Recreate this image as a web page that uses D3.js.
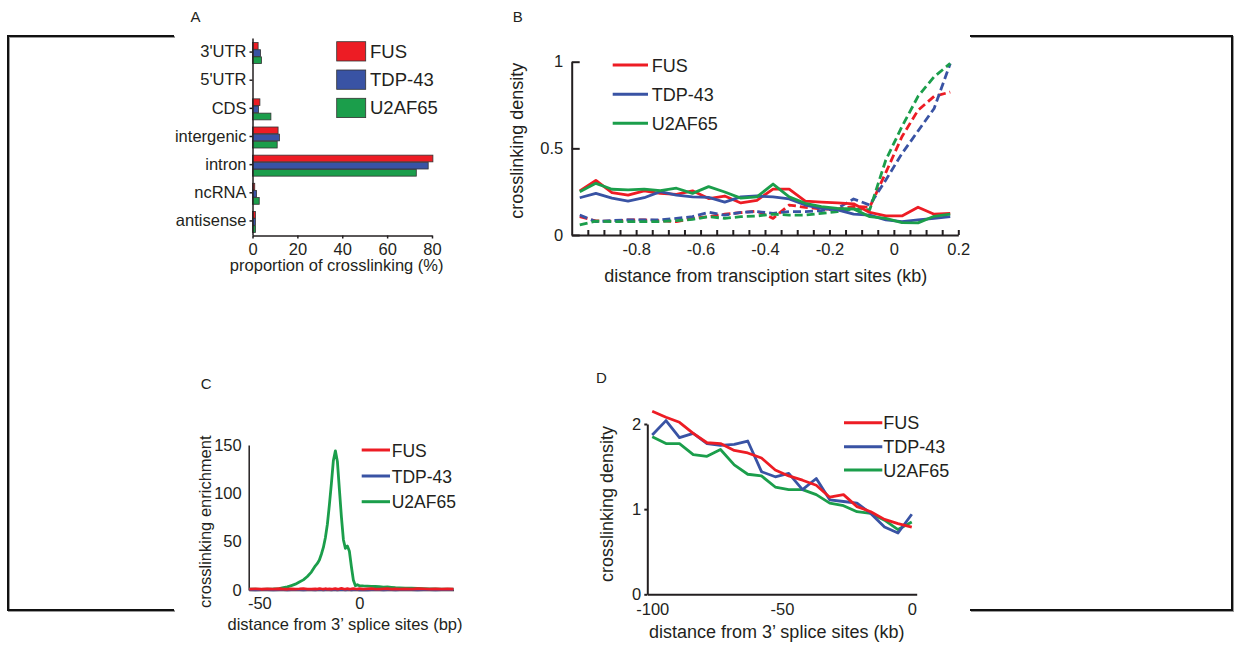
<!DOCTYPE html>
<html lang="en">
<head>
<meta charset="UTF-8">
<title>Crosslinking panels</title>
<script src="https://cdnjs.cloudflare.com/ajax/libs/d3/7.8.5/d3.min.js"></script>
<style>
  body { margin: 0; background: #fff; }
  svg { display: block; }
  text { font-family: "Liberation Sans", Arial, Helvetica, sans-serif; fill: #231f20; }
  .axis path, .axis line { stroke: #231f20; }
  .series { fill: none; stroke-linejoin: round; stroke-linecap: butt; }
</style>
</head>
<body>
<script>
// ---- data ----
var proteins = ["FUS", "TDP-43", "U2AF65"];

// A: proportion of crosslinking (%) per region
var regions = ["3'UTR", "5'UTR", "CDS", "intergenic", "intron", "ncRNA", "antisense"];
var fusRegion = [2.5, 0, 3.3, 11.4, 80.4, 1.0, 1.3];
var tdpRegion = [3.6, 0, 2.7, 12.0, 78.3, 1.8, 1.3];
var u2Region  = [4.0, 0, 8.2, 11.0, 73.0, 3.0, 1.3];

// B: distance from TSS (kb), solid and dashed profiles
var bX = [-0.975, -0.925, -0.875, -0.825, -0.775, -0.725, -0.675, -0.625, -0.575, -0.525, -0.475, -0.425,
          -0.375, -0.325, -0.275, -0.225, -0.175, -0.125, -0.075, -0.025, 0.025, 0.075, 0.125, 0.175];
var fusSolid = [0.255, 0.315, 0.245, 0.23, 0.255, 0.24, 0.235, 0.255, 0.21, 0.225, 0.185, 0.2,
                0.265, 0.265, 0.195, 0.19, 0.185, 0.18, 0.13, 0.11, 0.11, 0.16, 0.12, 0.125];
var tdpSolid = [0.215, 0.24, 0.213, 0.196, 0.215, 0.25, 0.23, 0.22, 0.217, 0.19, 0.22, 0.225,
                0.22, 0.208, 0.173, 0.154, 0.145, 0.121, 0.115, 0.087, 0.077, 0.087, 0.096, 0.106];
var u2Solid  = [0.25, 0.298, 0.264, 0.26, 0.265, 0.256, 0.27, 0.24, 0.279, 0.248, 0.213, 0.22,
                0.294, 0.22, 0.183, 0.164, 0.154, 0.15, 0.106, 0.096, 0.071, 0.07, 0.108, 0.12];
var fusDash  = [0.106, 0.081, 0.08, 0.087, 0.087, 0.083, 0.077, 0.096, 0.106, 0.12, 0.129, 0.138,
                0.096, 0.173, 0.16, 0.15, 0.15, 0.165, 0.16, 0.36, 0.567, 0.72, 0.8, 0.825];
var tdpDash  = [0.115, 0.077, 0.083, 0.087, 0.087, 0.087, 0.096, 0.106, 0.131, 0.115, 0.131, 0.135,
                0.125, 0.135, 0.135, 0.14, 0.154, 0.208, 0.173, 0.317, 0.47, 0.6, 0.73, 0.99];
var u2Dash   = [0.058, 0.08, 0.077, 0.077, 0.077, 0.077, 0.083, 0.09, 0.106, 0.096, 0.106, 0.11,
                0.12, 0.115, 0.115, 0.125, 0.135, 0.15, 0.145, 0.433, 0.625, 0.8, 0.913, 0.99];

// C: enrichment around 3' splice sites (bp)
var cPos = [-55, -52, -49, -46, -43, -40,
            -38, -36, -34, -32, -30, -28, -26, -24, -22,
            -21, -20, -19, -18, -17, -16, -15, -14, -13, -12, -11, -10, -9, -8, -7, -6, -5, -4, -3, -2, -1, 0,
            2, 4, 6, 8, 10, 12, 14, 16, 18, 20,
            23, 26, 29, 32, 35, 38, 41, 44, 47];
var u2C  = [0.8, 0.9, 0.7, 1.0, 1.1, 1.5,
            2.5, 3.3, 4.6, 6.0, 8.2, 10.5, 14, 18.5, 25,
            27.5, 31, 37, 44, 54, 68, 88, 110, 134, 144, 133, 104, 76, 52, 43, 45.5, 40, 24, 10, 4.5, 5.5, 4.5,
            4.2, 4.0, 3.8, 3.6, 3.4, 3.0, 3.1, 2.8, 2.5, 2.3,
            2.0, 1.8, 1.6, 1.4, 1.2, 1.1, 1.0, 0.9, 0.8];
var fusC = [1.0, 1.2, 0.8, 1.1, 0.9, 1.3,
            1.0, 0.8, 1.2, 0.9, 1.1, 1.4, 1.0, 0.9, 1.2,
            1.0, 1.5, 1.1, 0.8, 1.3, 1.0, 1.2, 0.9, 1.1, 1.4, 1.0, 1.2, 1.6, 1.1, 0.9, 1.3, 1.0, 1.2, 1.5, 1.1, 0.9, 1.3,
            1.0, 1.2, 1.4, 1.0, 0.9, 1.1, 1.3, 1.0, 1.2, 0.9,
            1.1, 1.0, 1.3, 1.1, 0.9, 1.2, 1.0, 1.1, 0.9];
var tdpC = [0.3, 0.2, 0.3, 0.4, 0.2, 0.3,
            0.3, 0.2, 0.3, 0.4, 0.3, 0.2, 0.3, 0.3, 0.2,
            0.3, 0.4, 0.3, 0.2, 0.3, 0.3, 0.4, 0.2, 0.3, 0.3, 0.2, 0.3, 0.4, 0.3, 0.2, 0.3, 0.3, 0.2, 0.4, 0.3, 0.3, 0.2,
            0.3, 0.2, 0.3, 0.4, 0.3, 0.2, 0.3, 0.3, 0.2, 0.3,
            0.4, 0.3, 0.2, 0.3, 0.3, 0.2, 0.3, 0.4, 0.3];

// D: density upstream of 3' splice sites (kb)
var dX = [-100, -94.7, -89.5, -84.2, -78.9, -73.7, -68.4, -63.2, -57.9, -52.6,
          -47.4, -42.1, -36.8, -31.6, -26.3, -21.1, -15.8, -10.5, -5.3, 0];
var fusD = [2.15, 2.08, 2.02, 1.89, 1.78, 1.77, 1.69, 1.66, 1.6, 1.46,
            1.39, 1.34, 1.28, 1.14, 1.17, 1.03, 0.97, 0.88, 0.83, 0.79];
var tdpD = [1.87, 2.04, 1.84, 1.89, 1.77, 1.75, 1.76, 1.8, 1.44, 1.38,
            1.42, 1.23, 1.36, 1.11, 1.09, 1.07, 0.95, 0.79, 0.72, 0.94];
var u2D  = [1.85, 1.77, 1.77, 1.64, 1.62, 1.7, 1.52, 1.41, 1.39, 1.26,
            1.23, 1.23, 1.17, 1.07, 1.04, 0.97, 0.95, 0.87, 0.76, 0.85];

var colors = {"FUS": "#ed1c24", "TDP-43": "#3953a4", "U2AF65": "#1b9e4b"};
var lw = 2.8;

var svg = d3.select("body").append("svg")
	.attr("width", 1235)
	.attr("height", 646);

svg.append("rect").attr("width", 1235).attr("height", 646).attr("fill", "#fff");

// outer frame (broken by the figure area)
var frameLine = d3.line();
[[[174, 36], [8, 36], [8, 610], [174, 610]],
 [[970, 36], [1232, 36], [1232, 610], [970, 610]]].forEach(function (pts) {
	svg.append("path").attr("d", frameLine(pts.map(function (p) { return [p[0] + 1, p[1] + 1]; })))
		.attr("fill", "none").attr("stroke", "#9a9a9a").attr("stroke-width", 2);
	svg.append("path").attr("d", frameLine(pts))
		.attr("fill", "none").attr("stroke", "#111").attr("stroke-width", 2);
});

function styleAxis(g, size, width) {
	g.attr("class", "axis").attr("font-size", size).attr("font-family", null);
	g.selectAll("path, line").attr("stroke-width", width);
	return g;
}

function panelLetter(txt, x, y) {
	svg.append("text").attr("x", x).attr("y", y).attr("font-size", 15).text(txt);
}

function legendLines(x0, x1, ys, tx, size) {
	proteins.forEach(function (p, i) {
		svg.append("line").attr("x1", x0).attr("x2", x1).attr("y1", ys[i]).attr("y2", ys[i])
			.attr("stroke", colors[p]).attr("stroke-width", 3);
		svg.append("text").attr("x", tx).attr("y", ys[i] + 6.5).attr("font-size", size).text(p);
	});
}

// ---------- Panel A ----------
panelLetter("A", 190.5, 21.7);
var xA = d3.scaleLinear().domain([0, 80]).range([252.5, 432]);
var yA = d3.scaleBand().domain(regions).range([38, 235]);
var yA2 = d3.scaleBand().domain(proteins).range([0, 21]).paddingInner(0.06);
var regionVals = {"FUS": fusRegion, "TDP-43": tdpRegion, "U2AF65": u2Region};
var barRows = [];
regions.forEach(function (r, i) {
	proteins.forEach(function (p) {
		barRows.push({region: r, protein: p, value: regionVals[p][i]});
	});
});

svg.append("g").selectAll("rect")
	.data(barRows.filter(function (d) { return d.value > 0; }))
	.enter().append("rect")
	.attr("x", xA(0))
	.attr("y", function (d) { return yA(d.region) + (yA.bandwidth() - 21) / 2 + 1 + yA2(d.protein); })
	.attr("width", function (d) { return xA(d.value) - xA(0); })
	.attr("height", yA2.bandwidth())
	.attr("fill", function (d) { return colors[d.protein]; })
	.attr("stroke", "#333")
	.attr("stroke-width", 0.8);

styleAxis(svg.append("g")
	.attr("transform", "translate(0,235.5)")
	.call(d3.axisBottom(xA).tickValues([0, 20, 40, 60, 80]).tickSize(3).tickSizeOuter(0).tickPadding(5)), 16.5, 1.5);
styleAxis(svg.append("g")
	.attr("transform", "translate(252.5,0)")
	.call(d3.axisLeft(yA).tickSize(3).tickSizeOuter(0).tickPadding(3)), 16.5, 1.5);

svg.append("text").attr("x", 336.7).attr("y", 271).attr("text-anchor", "middle")
	.attr("font-size", 16.5).text("proportion of crosslinking (%)");

proteins.forEach(function (p, i) {
	svg.append("rect").attr("x", 336.7).attr("y", 41.7 + i * 28.3).attr("width", 29).attr("height", 19.3)
		.attr("fill", colors[p]).attr("stroke", "#333").attr("stroke-width", 0.8);
	svg.append("text").attr("x", 370).attr("y", 57.5 + i * 28.3).attr("font-size", 18.5).text(p);
});

// ---------- Panel B ----------
panelLetter("B", 512.7, 21.7);
var xB = d3.scaleLinear().domain([-1, 0.2]).range([571.7, 958.3]);
var yB = d3.scaleLinear().domain([0, 1]).range([235, 61.7]);
var bTicks = d3.range(-19, 5).map(function (k) { return k * 0.05; });

styleAxis(svg.append("g")
	.attr("transform", "translate(0,235)")
	.call(d3.axisBottom(xB).tickValues(bTicks).tickSizeInner(-5).tickSizeOuter(0).tickPadding(8.5)
		.tickFormat(function (d) {
			var k = Math.round(d / 0.05);
			return k % 4 === 0 ? String(+d.toFixed(1)) : "";
		})), 16.5, 2);
styleAxis(svg.append("g")
	.attr("transform", "translate(571.7,0)")
	.call(d3.axisLeft(yB).tickValues([0, 0.5, 1]).tickSizeInner(-8).tickSizeOuter(0).tickPadding(8.5)
		.tickFormat(function (d) { return String(d); })), 16.5, 2);

var lineB = d3.line()
	.x(function (d, i) { return xB(bX[i]); })
	.y(function (d) { return yB(d); });

[[fusDash, "FUS"], [tdpDash, "TDP-43"], [u2Dash, "U2AF65"]].forEach(function (s) {
	svg.append("path").attr("class", "series").attr("d", lineB(s[0]))
		.attr("stroke", colors[s[1]]).attr("stroke-width", lw).attr("stroke-dasharray", "8,4");
});
[[fusSolid, "FUS"], [tdpSolid, "TDP-43"], [u2Solid, "U2AF65"]].forEach(function (s) {
	svg.append("path").attr("class", "series").attr("d", lineB(s[0]))
		.attr("stroke", colors[s[1]]).attr("stroke-width", lw);
});

legendLines(612.7, 648, [65, 94.3, 123.3], 651.7, 18);
svg.append("text").attr("transform", "translate(523,140.8) rotate(-90)").attr("text-anchor", "middle")
	.attr("font-size", 18).text("crosslinking density");
svg.append("text").attr("x", 765.7).attr("y", 281.7).attr("text-anchor", "middle")
	.attr("font-size", 18).text("distance from transciption start sites (kb)");

// ---------- Panel C ----------
panelLetter("C", 200.7, 389.3);
var xC = d3.scaleLinear().domain([-55.3, 47]).range([248.7, 453.5]);
var yC = d3.scaleLinear().domain([0, 150]).range([590, 445]);

styleAxis(svg.append("g")
	.attr("transform", "translate(0,590)")
	.call(d3.axisBottom(xC).tickValues([-50, 0]).tickSize(0).tickPadding(7.5)
		.tickFormat(function (d) { return String(d); })), 16.5, 1.5);
styleAxis(svg.append("g")
	.attr("transform", "translate(248.7,0)")
	.call(d3.axisLeft(yC).tickValues([0, 50, 100, 150]).tickSize(0).tickPadding(7)
		.tickFormat(function (d) { return String(d); })), 16.5, 1.5);

var lineC = d3.line()
	.x(function (d) { return xC(d[0]); })
	.y(function (d) { return yC(d[1]); });
[[u2C, "U2AF65"], [tdpC, "TDP-43"], [fusC, "FUS"]].forEach(function (s) {
	var pts = cPos.map(function (x, i) { return [x, s[0][i]]; });
	svg.append("path").attr("class", "series").attr("d", lineC(pts))
		.attr("stroke", colors[s[1]]).attr("stroke-width", lw);
});

legendLines(361.7, 390, [450, 476, 501.7], 391.7, 17.5);
svg.append("text").attr("transform", "translate(211,521.7) rotate(-90)").attr("text-anchor", "middle")
	.attr("font-size", 16.5).text("crosslinking enrichment");
svg.append("text").attr("x", 345).attr("y", 630).attr("text-anchor", "middle")
	.attr("font-size", 16.5).text("distance from 3\u2019 splice sites (bp)");

// ---------- Panel D ----------
panelLetter("D", 596, 383.3);
var xD = d3.scaleLinear().domain([-101.9, 1.9]).range([647.3, 916.7]);
var yD = d3.scaleLinear().domain([0, 2]).range([594.3, 424]);

styleAxis(svg.append("g")
	.attr("transform", "translate(0,594.3)")
	.call(d3.axisBottom(xD).tickValues([-100, -50, 0]).tickSize(0).tickPadding(9)
		.tickFormat(function (d) { return String(d); })), 16.5, 2);
styleAxis(svg.append("g")
	.attr("transform", "translate(647.3,0)")
	.call(d3.axisLeft(yD).tickValues([0, 1, 2]).tickSize(3).tickSizeOuter(0).tickPadding(3)
		.tickFormat(function (d) { return String(d); })), 16.5, 2);

var lineD = d3.line()
	.x(function (d, i) { return xD(dX[i]); })
	.y(function (d) { return yD(d); });
[[u2D, "U2AF65"], [tdpD, "TDP-43"], [fusD, "FUS"]].forEach(function (s) {
	svg.append("path").attr("class", "series").attr("d", lineD(s[0]))
		.attr("stroke", colors[s[1]]).attr("stroke-width", lw);
});

legendLines(844, 882.3, [422.7, 446.7, 470], 883.3, 18);
svg.append("text").attr("transform", "translate(612.7,504) rotate(-90)").attr("text-anchor", "middle")
	.attr("font-size", 18).text("crosslinking density");
svg.append("text").attr("x", 776.7).attr("y", 638.3).attr("text-anchor", "middle")
	.attr("font-size", 18).text("distance from 3\u2019 splice sites (kb)");
</script>
</body>
</html>
